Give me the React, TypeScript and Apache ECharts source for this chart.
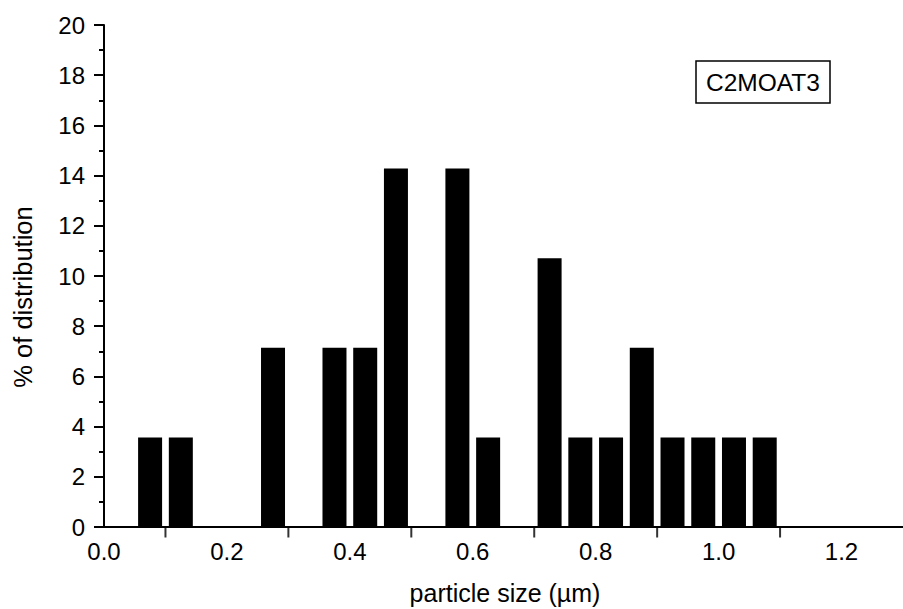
import React, { useEffect, useRef } from "react";
import * as echarts from "echarts";

const binCenters = [0.075, 0.125, 0.275, 0.375, 0.425, 0.475, 0.575, 0.625, 0.725, 0.775, 0.825, 0.875, 0.925, 0.975, 1.025, 1.075];
const percentages = [3.57, 3.57, 7.14, 7.14, 7.14, 14.28, 14.28, 3.57, 10.71, 3.57, 3.57, 7.14, 3.57, 3.57, 3.57, 3.57];
const xTickMarks = [0.1, 0.3, 0.5, 0.7, 0.9, 1.1];
const legendLabel = "C2MOAT3";
const xTitle = "particle size (µm)";
const yTitle = "% of distribution";

const FONT = "Liberation Sans, Arial, sans-serif";

export default function App() {
  const ref = useRef<HTMLDivElement>(null);
  useEffect(() => {
    if (!ref.current) return;
    const chart = echarts.init(ref.current, null, { renderer: "svg" });
    chart.setOption({
      animation: false,
      backgroundColor: "#ffffff",
      textStyle: { fontFamily: FONT },
      grid: { left: 104, right: 0, top: 25, bottom: 82, containLabel: false },
      xAxis: {
        type: "value",
        min: 0,
        max: 1.3,
        interval: 0.2,
        axisLine: { show: true, onZero: false, lineStyle: { color: "#000", width: 2 } },
        axisTick: { show: false },
        splitLine: { show: false },
        axisLabel: {
          color: "#000",
          fontSize: 24,
          fontFamily: FONT,
          margin: 12,
          showMaxLabel: false,
          formatter: (v: number) => v.toFixed(1),
        },
      },
      yAxis: {
        type: "value",
        min: 0,
        max: 20,
        interval: 2,
        axisLine: { show: true, lineStyle: { color: "#000", width: 2 } },
        axisTick: { show: true, length: 10, lineStyle: { color: "#000", width: 2 } },
        minorTick: { show: true, splitNumber: 2, length: 5, lineStyle: { color: "#000", width: 2 } },
        splitLine: { show: false },
        axisLabel: { color: "#000", fontSize: 24, fontFamily: FONT, margin: 19 },
      },
      series: [
        {
          type: "bar",
          data: binCenters.map((x, i) => [x, percentages[i]]),
          barWidth: 24,
          itemStyle: { color: "#000" },
          silent: true,
        },
        {
          type: "scatter",
          data: xTickMarks.map((x) => [x, 0]),
          symbol: "rect",
          symbolSize: [2, 11],
          symbolOffset: [0, 5],
          itemStyle: { color: "#000" },
          clip: false,
          silent: true,
          z: 5,
        },
      ],
      graphic: [
        {
          type: "rect",
          shape: { x: 696, y: 61, width: 134, height: 42 },
          style: { fill: "#fff", stroke: "#000", lineWidth: 1.5 },
        },
        {
          type: "text",
          x: 763,
          y: 82,
          style: {
            text: legendLabel,
            fill: "#000",
            font: `24.5px ${FONT}`,
            align: "center",
            verticalAlign: "middle",
          },
        },
        {
          type: "text",
          x: 505,
          y: 593,
          style: {
            text: xTitle,
            fill: "#000",
            font: `25px ${FONT}`,
            align: "center",
            verticalAlign: "middle",
          },
        },
        {
          type: "text",
          x: 23,
          y: 297,
          rotation: Math.PI / 2,
          style: {
            text: yTitle,
            fill: "#000",
            font: `25.5px ${FONT}`,
            align: "center",
            verticalAlign: "middle",
          },
        },
      ],
    });
    return () => chart.dispose();
  }, []);
  return <div ref={ref} style={{ width: 903, height: 609, position: "fixed", left: 0, top: 0 }} />;
}
